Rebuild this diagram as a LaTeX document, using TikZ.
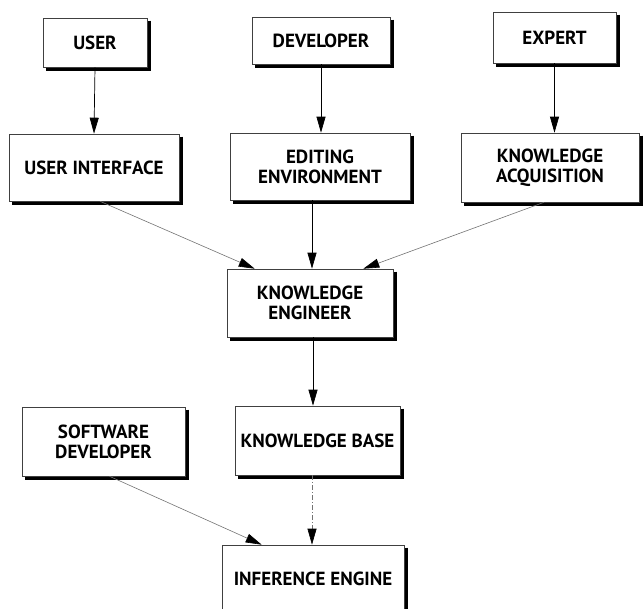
\documentclass[tikz,border=0pt]{standalone}
\usepackage{fontspec}
\setmainfont{PT Sans}
\usetikzlibrary{arrows.meta,calc}
\begin{document}
\begin{tikzpicture}[x=1pt,y=-1pt]
\tikzset{
  blockbox/.style={draw=black!75, line width=0.6pt, fill=white, align=center,
    inner sep=0pt, font=\bfseries\fontsize{19}{20}\selectfont},
  boxshadow/.style={line width=3.2pt, draw=black, line cap=butt},
  tip/.style={-{Triangle[length=16pt,width=9pt,color=black]}},
  flow/.style={tip, line width=0.7pt, draw=black},
  faint/.style={tip, line width=0.6pt, draw=black!55},
  faintdash/.style={faint, dash pattern=on 5pt off 2pt on 1pt off 2pt}
}
\useasboundingbox (0,0) rectangle (644,609);

% top row: the three kinds of people
\node[blockbox, minimum width=104pt, minimum height=49pt] (user) at (95,42.5) {USER};
\node[blockbox, minimum width=138pt, minimum height=47pt] (dev) at (321,40.5) {DEVELOPER};
\node[blockbox, minimum width=123pt, minimum height=51pt] (expert) at (554.5,37.5) {EXPERT};

% second row: the tools they work with
\node[blockbox, minimum width=170pt, minimum height=67pt] (ui) at (94,167.5) {USER INTERFACE};
\node[blockbox, minimum width=180pt, minimum height=67pt] (edit) at (320,166.5) {EDITING\\ENVIRONMENT};
\node[blockbox, minimum width=178pt, minimum height=69pt] (acq) at (550,167.5) {KNOWLEDGE\\ACQUISITION};

% centre column and the software developer
\node[blockbox, minimum width=166pt, minimum height=68pt] (ke) at (310,303) {KNOWLEDGE\\ENGINEER};
\node[blockbox, minimum width=165pt, minimum height=69pt] (kb) at (317.5,440.5) {KNOWLEDGE BASE};
\node[blockbox, minimum width=163pt, minimum height=69pt] (sd) at (103.5,441.5) {SOFTWARE\\DEVELOPER};
\node[blockbox, minimum width=182pt, minimum height=68pt] (ie) at (313,579) {INFERENCE ENGINE};

% heavy shadow edge along the right and bottom of every box
\draw[boxshadow] ($(user.north east)+(2,3)$) -- ($(user.south east)+(2,2)$) -- ($(user.south west)+(3,2)$);
\draw[boxshadow] ($(dev.north east)+(2,3)$) -- ($(dev.south east)+(2,2)$) -- ($(dev.south west)+(3,2)$);
\draw[boxshadow] ($(expert.north east)+(2,3)$) -- ($(expert.south east)+(2,2)$) -- ($(expert.south west)+(3,2)$);
\draw[boxshadow] ($(ui.north east)+(2,3)$) -- ($(ui.south east)+(2,2)$) -- ($(ui.south west)+(3,2)$);
\draw[boxshadow] ($(edit.north east)+(2,3)$) -- ($(edit.south east)+(2,2)$) -- ($(edit.south west)+(3,2)$);
\draw[boxshadow] ($(acq.north east)+(2,3)$) -- ($(acq.south east)+(2,2)$) -- ($(acq.south west)+(3,2)$);
\draw[boxshadow] ($(ke.north east)+(2,3)$) -- ($(ke.south east)+(2,2)$) -- ($(ke.south west)+(3,2)$);
\draw[boxshadow] ($(kb.north east)+(2,3)$) -- ($(kb.south east)+(2,2)$) -- ($(kb.south west)+(3,2)$);
\draw[boxshadow] ($(sd.north east)+(2,3)$) -- ($(sd.south east)+(2,2)$) -- ($(sd.south west)+(3,2)$);
\draw[boxshadow] ($(ie.north east)+(2,3)$) -- ($(ie.south east)+(2,2)$);

% anchor points for the connectors
\coordinate (ketop) at ($(ke.north)+(2,0)$);
\coordinate (kebot) at ($(ke.south)+(3,0)$);
\coordinate (ietop) at ($(ie.north)+(-1,0)$);

% connectors
\draw[flow] (user.south) -- (ui.north);
\draw[flow] (dev.south) -- (dev.south |- edit.north);
\draw[flow] (expert.south) -- (expert.south |- acq.north);

\draw[faint] ($(ui.south)+(6,0)$) -- ($(ke.north west)+(28,0)$);
\draw[flow] (ketop |- edit.south) -- (ketop);
\draw[faint] ($(acq.south)+(-6,0)$) -- ($(ke.north east)+(-30,0)$);

\draw[flow] (kebot) -- (kebot |- kb.north);
\draw[faintdash] (ietop |- kb.south) -- (ietop);
\draw[faint] ($(sd.south)+(6,0)$) -- ($(ie.north west)+(40,0)$);
\end{tikzpicture}
\end{document}
